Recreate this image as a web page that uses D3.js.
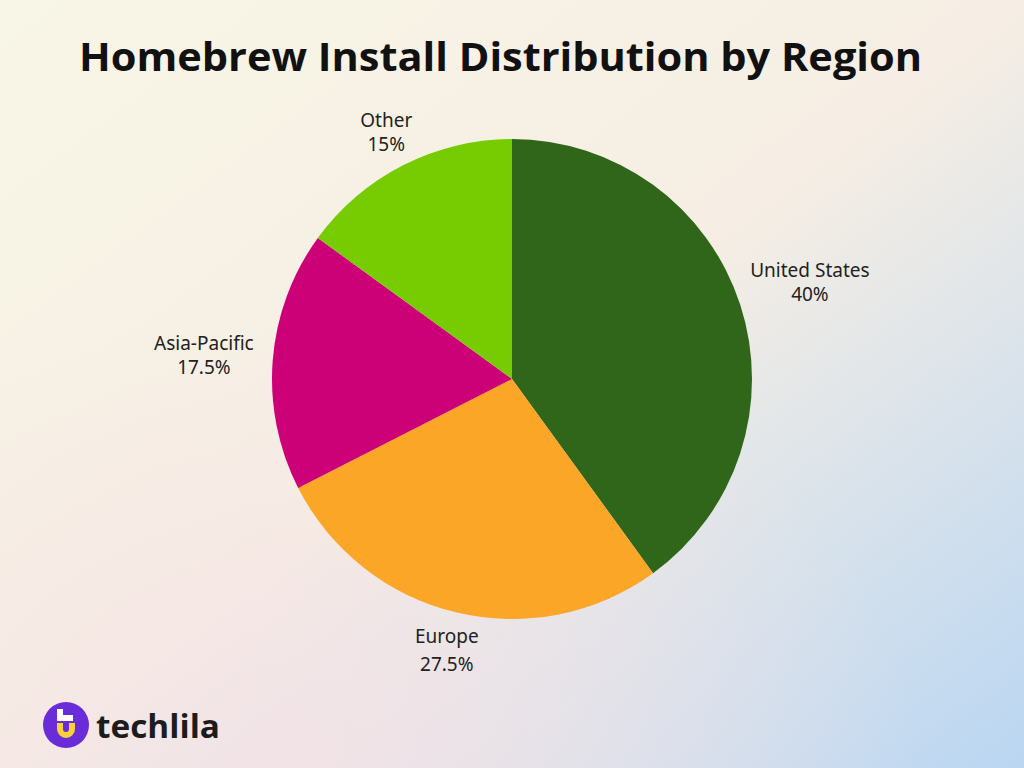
<!DOCTYPE html>
<html><head><meta charset="utf-8">
<script src="https://cdn.jsdelivr.net/npm/d3@7"></script>
<style>body{margin:0;width:1024px;height:768px;overflow:hidden;}</style>
</head><body>
<svg id="c" width="1024" height="768"></svg>
<script>
const categories = ["United States","Europe","Asia-Pacific","Other"];
const values = [40, 27.5, 17.5, 15];
const valueLabels = ["40%","27.5%","17.5%","15%"];
const colors = ["#30661a","#fca627","#cc0077","#76cc00"];
const labelNudge = [[24,-9],[2,-12],[-21,-2],[5,9]];

const svg = d3.select("#c");
const defs = svg.append("defs");
const g1 = defs.append("linearGradient").attr("id","bg").attr("x1","0").attr("y1","0").attr("x2","1").attr("y2","1");
g1.append("stop").attr("offset","0").attr("stop-color","#f8f6e6");
g1.append("stop").attr("offset","0.5").attr("stop-color","#f6eee4");
g1.append("stop").attr("offset","1").attr("stop-color","#bad6f2");
svg.append("rect").attr("width",1024).attr("height",768).attr("fill","url(#bg)");
const g2 = defs.append("radialGradient").attr("id","pk").attr("cx","0.3").attr("cy","1").attr("r","0.6");
g2.append("stop").attr("offset","0").attr("stop-color","#f5e2e6").attr("stop-opacity",0.8);
g2.append("stop").attr("offset","1").attr("stop-color","#f5e2e6").attr("stop-opacity",0);
svg.append("rect").attr("width",1024).attr("height",768).attr("fill","url(#pk)");

svg.append("text").attr("x",79).attr("y",71)
  .attr("font-family","'Open Sans', sans-serif").attr("font-weight",700).attr("font-size",40)
  .attr("textLength",843).attr("lengthAdjust","spacingAndGlyphs")
  .attr("fill","#111").text("Homebrew Install Distribution by Region");

const cx=512, cy=379, r=240;
const pie = d3.pie().sort(null).value(d=>d)(values);
const arc = d3.arc().innerRadius(0).outerRadius(r);
const lab = d3.arc().innerRadius(r*1.2).outerRadius(r*1.2);
const g = svg.append("g").attr("transform",`translate(${cx},${cy})`);
g.selectAll("path").data(pie).join("path").attr("d",arc).attr("fill",(d,i)=>colors[i]);
pie.forEach((d,i)=>{
  const [x,y]=lab.centroid(d);
  const t=g.append("text").attr("text-anchor","middle").attr("font-family","'Noto Sans', sans-serif")
    .attr("font-size",19).attr("fill","#222")
    .attr("transform",`translate(${x+labelNudge[i][0]},${y-4+labelNudge[i][1]})`);
  t.append("tspan").attr("x",0).attr("dy",0).text(categories[i]);
  t.append("tspan").attr("x",0).attr("dy",i==1?28:24).text(valueLabels[i]);
});

// logo
const L = svg.append("g").attr("transform","translate(66,725)");
L.append("circle").attr("r",23).attr("fill","#6a2bd9");
L.append("path").attr("d","M-9,-2 L-9,4 A9,9 0 0 0 9,4 L9,-2 L3,-2 L3,4 A3,3 0 0 1 -3,4 L-3,-2 Z").attr("fill","#f7d13a");
L.append("rect").attr("x",-9).attr("y",-16).attr("width",6).attr("height",12).attr("fill","#fff");
L.append("rect").attr("x",-9).attr("y",-10).attr("width",16).attr("height",6).attr("fill","#fff");
svg.append("text").attr("x",96).attr("y",738).attr("font-family","'Open Sans', sans-serif").attr("font-weight",700)
  .attr("font-size",33).attr("textLength",124).attr("lengthAdjust","spacingAndGlyphs").attr("fill","#1c1c1c").text("techlila");
</script>
</body></html>
